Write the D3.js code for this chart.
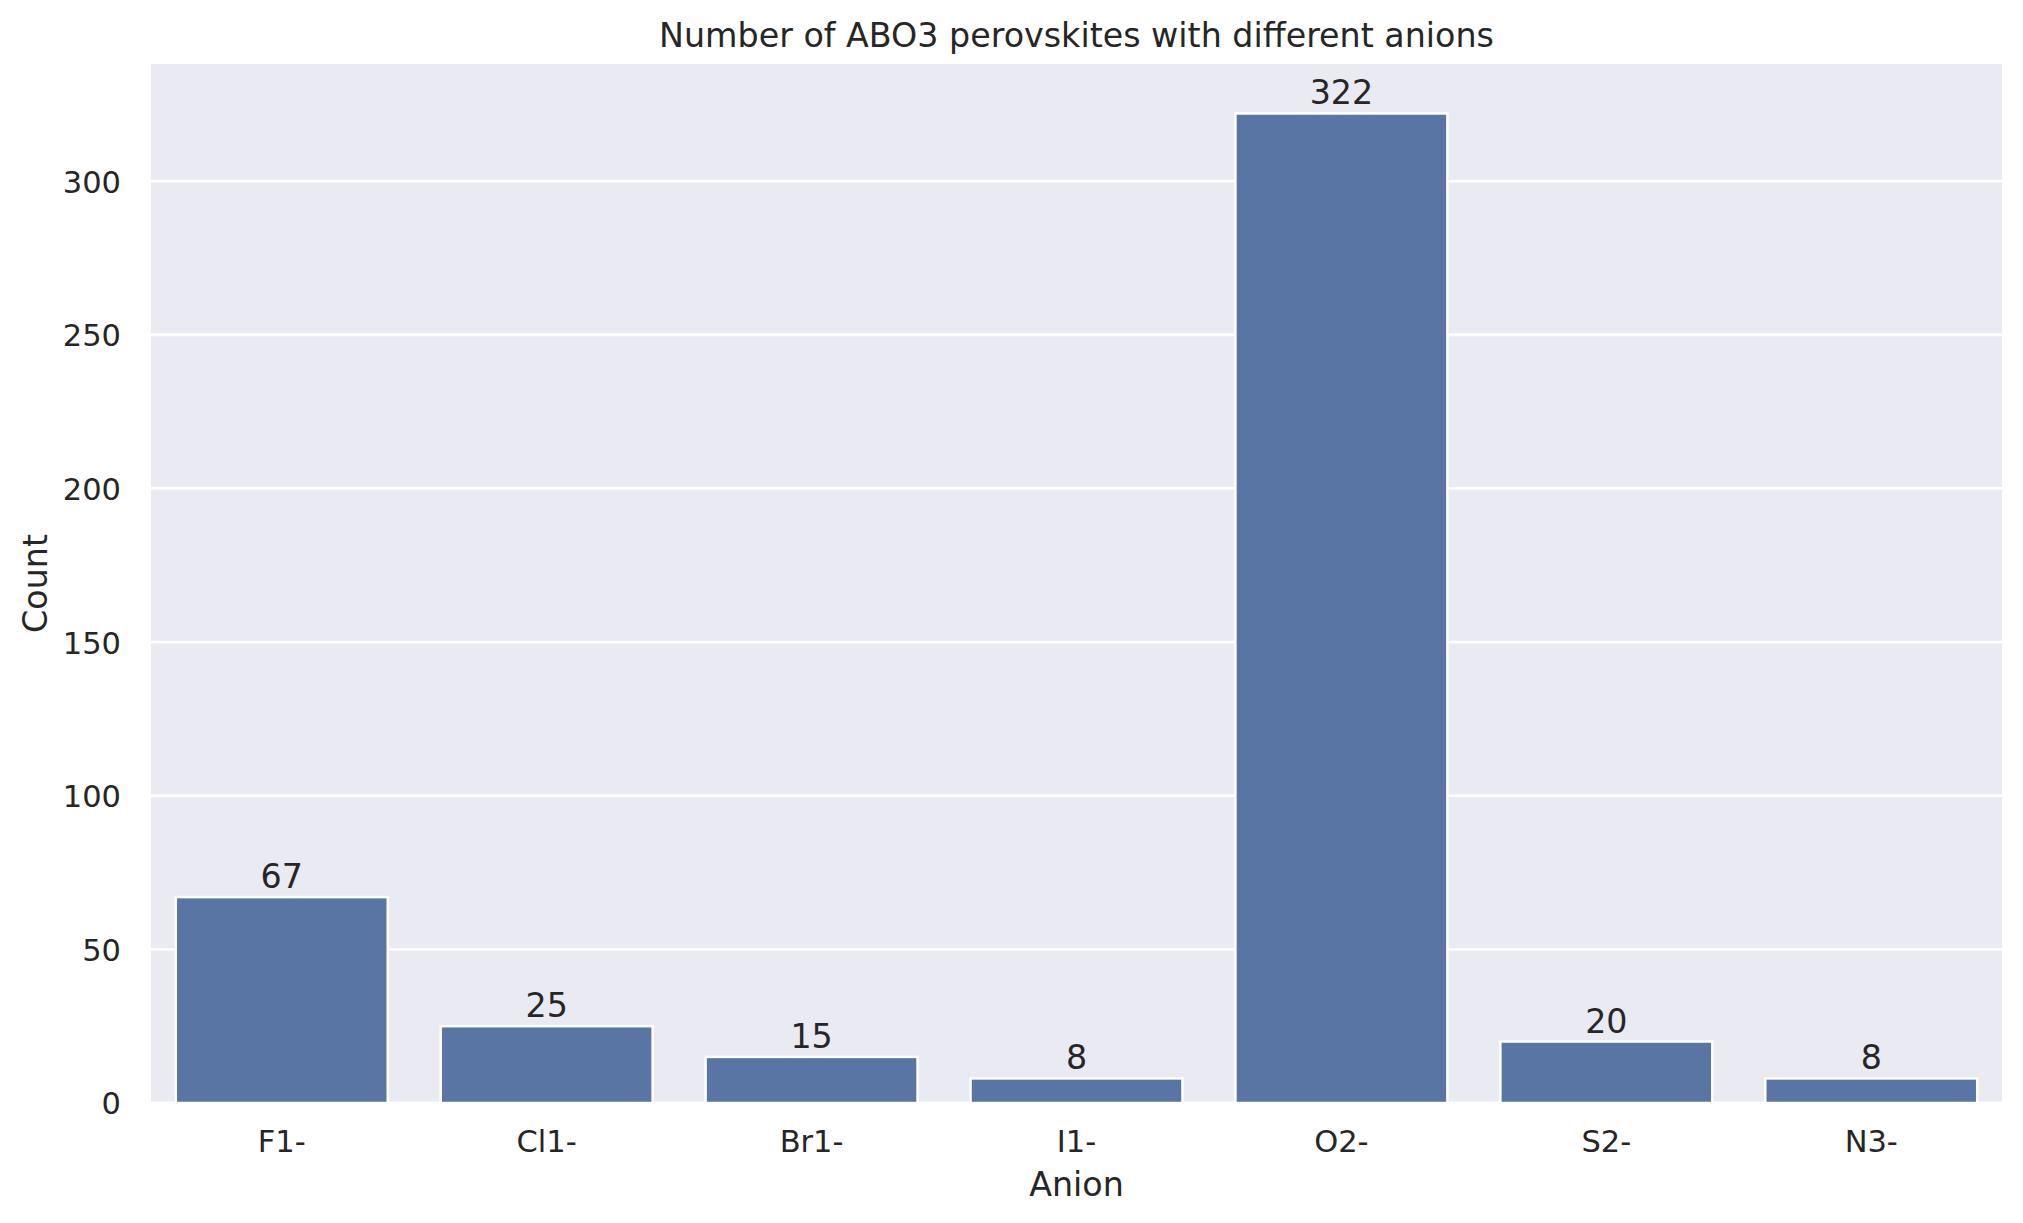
<!DOCTYPE html>
<html>
<head>
<meta charset="utf-8">
<script src="https://cdn.jsdelivr.net/npm/d3@7"></script>
<style>
  html, body { margin: 0; padding: 0; background: #ffffff; }
  svg { display: block; }
  text { font-family: "DejaVu Sans", sans-serif; fill: #262626; }
</style>
</head>
<body>
<svg id="chart" width="2023" height="1223"></svg>
<script>
const categories = ["F1-", "Cl1-", "Br1-", "I1-", "O2-", "S2-", "N3-"];
const counts = [67, 25, 15, 8, 322, 20, 8];
const yTicks = [0, 50, 100, 150, 200, 250, 300];
const titleText = "Number of ABO3 perovskites with different anions";
const xLabelText = "Anion";
const yLabelText = "Count";

const W = 2023, H = 1223;
const plot = { left: 151, right: 2002, top: 64, bottom: 1103 };

const svg = d3.select("#chart");

const x = d3.scaleBand()
  .domain(categories)
  .range([149.3, 2003.7])
  .paddingInner(0.2)
  .paddingOuter(0.1);

const yMax = d3.max(counts) * 1.05;
const y = d3.scaleLinear()
  .domain([0, yMax])
  .range([plot.bottom, plot.top]);

// background
svg.append("rect")
  .attr("x", plot.left).attr("y", plot.top)
  .attr("width", plot.right - plot.left)
  .attr("height", plot.bottom - plot.top)
  .attr("fill", "#eaeaf2");

// grid lines
svg.append("g")
  .selectAll("line")
  .data(yTicks)
  .join("line")
  .attr("x1", plot.left).attr("x2", plot.right)
  .attr("y1", d => y(d)).attr("y2", d => y(d))
  .attr("stroke", "#ffffff")
  .attr("stroke-width", 2.8);

// y axis
const yAxis = d3.axisLeft(y).tickValues(yTicks).tickSize(0).tickPadding(30);
const gy = svg.append("g").attr("transform", `translate(${plot.left},0)`).call(yAxis);
gy.select(".domain").remove();
gy.selectAll("text")
  .attr("font-size", "30.5px")
  .attr("font-family", "DejaVu Sans, sans-serif")
  .attr("fill", "#262626")
  .attr("dy", "0.36em");

// x axis
const xAxis = d3.axisBottom(x).tickSize(0).tickPadding(27);
const gx = svg.append("g").attr("transform", `translate(0,${plot.bottom})`).call(xAxis);
gx.select(".domain").remove();
gx.selectAll("text")
  .attr("font-size", "30.5px")
  .attr("font-family", "DejaVu Sans, sans-serif")
  .attr("fill", "#262626")
  .attr("dy", "0.71em");

// bars
svg.append("g")
  .selectAll("rect")
  .data(categories)
  .join("rect")
  .attr("x", d => x(d))
  .attr("width", x.bandwidth())
  .attr("y", (d, i) => y(counts[i]))
  .attr("height", (d, i) => y(0) - y(counts[i]))
  .attr("fill", "#5875a4")
  .attr("stroke", "#ffffff")
  .attr("stroke-width", 2.5);

// bar labels
svg.append("g")
  .selectAll("text")
  .data(categories)
  .join("text")
  .attr("x", d => x(d) + x.bandwidth() / 2)
  .attr("y", (d, i) => y(counts[i]) - 9)
  .attr("text-anchor", "middle")
  .attr("font-size", "33.3px")
  .text((d, i) => counts[i]);

// title
svg.append("text")
  .attr("x", (plot.left + plot.right) / 2)
  .attr("y", 47)
  .attr("text-anchor", "middle")
  .attr("font-size", "33.3px")
  .text(titleText);

// x label
svg.append("text")
  .attr("x", (plot.left + plot.right) / 2)
  .attr("y", 1196)
  .attr("text-anchor", "middle")
  .attr("font-size", "33.3px")
  .text(xLabelText);

// y label
svg.append("text")
  .attr("transform", `translate(47,${(plot.top + plot.bottom) / 2}) rotate(-90)`)
  .attr("text-anchor", "middle")
  .attr("font-size", "33.3px")
  .text(yLabelText);
</script>
</body>
</html>
